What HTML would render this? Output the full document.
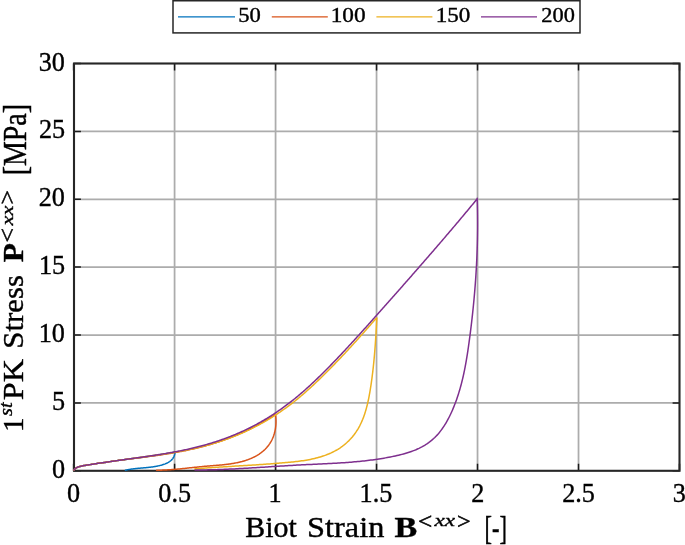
<!DOCTYPE html>
<html><head><meta charset="utf-8"><style>
html,body{margin:0;padding:0;background:#fff;width:685px;height:545px;overflow:hidden}
div{will-change:transform;width:685px;height:545px}
svg{display:block}
text{font-family:"Liberation Serif",serif;fill:#000;stroke:#000;stroke-width:0.4px}
</style></head><body><div>
<svg width="685" height="545" viewBox="0 0 685 545">
<rect width="685" height="545" fill="#fff"/>
<path stroke="#acacac" stroke-width="1.75" fill="none" d="M174.58,63.5V470.75M74.0,402.88H679.5M275.57,63.5V470.75M74.0,335.00H679.5M376.55,63.5V470.75M74.0,267.12H679.5M477.53,63.5V470.75M74.0,199.25H679.5M578.52,63.5V470.75M74.0,131.38H679.5"/>
<g fill="none">
<path stroke="#1a1a1a" stroke-width="1.5" d="M73.60,470.75V463.85M73.60,63.5V70.40M74.0,470.75H80.9M679.5,470.75H672.6M174.58,470.75V463.85M174.58,63.5V70.40M74.0,402.88H80.9M679.5,402.88H672.6M275.57,470.75V463.85M275.57,63.5V70.40M74.0,335.00H80.9M679.5,335.00H672.6M376.55,470.75V463.85M376.55,63.5V70.40M74.0,267.12H80.9M679.5,267.12H672.6M477.53,470.75V463.85M477.53,63.5V70.40M74.0,199.25H80.9M679.5,199.25H672.6M578.52,470.75V463.85M578.52,63.5V70.40M74.0,131.38H80.9M679.5,131.38H672.6M679.50,470.75V463.85M679.50,63.5V70.40M74.0,63.50H80.9M679.5,63.50H672.6"/>
<rect stroke="#262626" stroke-width="2.1" x="74.0" y="63.5" width="605.5" height="407.3"/>
</g>
<g fill="none" stroke-width="1.5" stroke-linejoin="round" stroke-linecap="round">
<path stroke="#0072BD" d="M74.00,469.90 L74.25,469.64 L74.50,469.38 L74.75,469.13 L75.00,468.88 L75.25,468.65 L75.50,468.43 L75.75,468.23 L76.00,468.05 L76.25,467.88 L76.50,467.75 L76.75,467.62 L77.00,467.50 L77.25,467.38 L77.50,467.27 L77.75,467.16 L78.00,467.06 L78.25,466.97 L78.50,466.88 L78.75,466.79 L79.00,466.71 L79.25,466.63 L79.50,466.55 L79.75,466.48 L80.00,466.41 L81.00,466.15 L82.00,465.94 L83.00,465.75 L84.00,465.58 L85.00,465.42 L86.00,465.25 L87.00,465.09 L88.00,464.93 L89.00,464.78 L90.00,464.62 L91.00,464.46 L92.00,464.30 L93.00,464.14 L94.00,463.98 L95.00,463.82 L96.00,463.66 L97.00,463.50 L98.00,463.34 L99.00,463.23 L100.00,463.12 L101.00,462.99 L102.00,462.85 L103.00,462.70 L104.00,462.54 L105.00,462.39 L106.00,462.23 L107.00,462.08 L108.00,461.93 L109.00,461.78 L110.00,461.63 L111.00,461.48 L112.00,461.34 L113.00,461.19 L114.00,461.05 L115.00,460.90 L116.00,460.76 L117.00,460.62 L118.00,460.48 L119.00,460.33 L120.00,460.19 L121.00,460.06 L122.00,459.92 L123.00,459.79 L124.00,459.66 L125.00,459.52 L126.00,459.39 L127.00,459.26 L128.00,459.13 L129.00,458.99 L130.00,458.86 L131.00,458.73 L132.00,458.60 L133.00,458.47 L134.00,458.33 L135.00,458.20 L136.00,458.07 L137.00,457.93 L138.00,457.80 L139.00,457.67 L140.00,457.53 L141.00,457.40 L142.00,457.26 L143.00,457.13 L144.00,456.99 L145.00,456.85 L146.00,456.71 L147.00,456.57 L148.00,456.43 L149.00,456.29 L150.00,456.15 L151.00,456.01 L152.00,455.86 L153.00,455.72 L154.00,455.57 L155.00,455.43 L156.00,455.28 L157.00,455.13 L158.00,454.98 L159.00,454.82 L160.00,454.67 L161.00,454.51 L162.00,454.36 L163.00,454.20 L164.00,454.04 L165.00,453.88 L166.00,453.71 L167.00,453.55 L168.00,453.38 L169.00,453.21 L170.00,453.04 L171.00,452.86 L172.00,452.69 L173.00,452.51 L174.00,452.33 L175.02,452.18 L174.93,452.99 L174.80,453.77 L174.64,454.51 L174.43,455.23 L174.19,455.91 L173.92,456.56 L173.61,457.18 L173.27,457.77 L172.90,458.34 L172.51,458.87 L172.08,459.39 L171.62,459.87 L171.15,460.34 L170.64,460.78 L170.12,461.19 L169.57,461.59 L169.00,461.96 L168.42,462.32 L167.81,462.66 L167.20,462.97 L166.56,463.27 L165.92,463.56 L165.26,463.83 L164.59,464.08 L163.91,464.33 L163.23,464.55 L162.54,464.77 L161.84,464.98 L161.14,465.17 L160.43,465.36 L159.73,465.54 L159.02,465.70 L158.30,465.87 L157.59,466.02 L156.87,466.16 L156.15,466.30 L155.43,466.43 L154.71,466.55 L153.99,466.67 L153.26,466.78 L152.53,466.89 L151.81,466.99 L151.08,467.08 L150.35,467.17 L149.61,467.26 L148.88,467.34 L148.15,467.42 L147.42,467.50 L146.69,467.57 L145.95,467.64 L145.22,467.71 L144.49,467.78 L143.76,467.84 L143.03,467.91 L142.30,467.97 L141.57,468.04 L140.84,468.10 L140.11,468.16 L139.39,468.23 L138.67,468.29 L137.94,468.36 L137.22,468.43 L136.51,468.50 L135.79,468.57 L135.08,468.65 L134.36,468.72 L133.65,468.81 L132.95,468.89 L132.25,468.98 L131.55,469.08 L130.85,469.18 L130.15,469.28 L129.46,469.39 L128.78,469.51 L128.10,469.63 L127.42,469.76 L126.74,469.89 L126.07,470.03 L125.41,470.18"/>
<path stroke="#D95319" d="M74.00,469.90 L74.25,469.64 L74.50,469.38 L74.75,469.13 L75.00,468.88 L75.25,468.65 L75.50,468.43 L75.75,468.23 L76.00,468.05 L76.25,467.88 L76.50,467.75 L76.75,467.62 L77.00,467.50 L77.25,467.38 L77.50,467.27 L77.75,467.16 L78.00,467.06 L78.25,466.97 L78.50,466.88 L78.75,466.79 L79.00,466.71 L79.25,466.63 L79.50,466.55 L79.75,466.48 L80.00,466.41 L81.00,466.15 L82.00,465.94 L83.00,465.75 L84.00,465.58 L85.00,465.42 L86.00,465.25 L87.00,465.09 L88.00,464.93 L89.00,464.78 L90.00,464.62 L91.00,464.46 L92.00,464.30 L93.00,464.14 L94.00,463.98 L95.00,463.82 L96.00,463.66 L97.00,463.50 L98.00,463.34 L99.00,463.23 L100.00,463.12 L101.00,462.99 L102.00,462.85 L103.00,462.70 L104.00,462.54 L105.00,462.39 L106.00,462.23 L107.00,462.08 L108.00,461.93 L109.00,461.78 L110.00,461.63 L111.00,461.48 L112.00,461.34 L113.00,461.19 L114.00,461.05 L115.00,460.90 L116.00,460.76 L117.00,460.62 L118.00,460.48 L119.00,460.33 L120.00,460.19 L121.00,460.07 L122.00,459.94 L123.00,459.81 L124.00,459.69 L125.00,459.56 L126.00,459.43 L127.00,459.31 L128.00,459.18 L129.00,459.06 L130.00,458.93 L131.00,458.81 L132.00,458.68 L133.00,458.56 L134.00,458.43 L135.00,458.31 L136.00,458.18 L137.00,458.05 L138.00,457.93 L139.00,457.80 L140.00,457.67 L141.00,457.54 L142.00,457.42 L143.00,457.29 L144.00,457.16 L145.00,457.03 L146.00,456.89 L147.00,456.76 L148.00,456.63 L149.00,456.50 L150.00,456.36 L151.00,456.23 L152.00,456.09 L153.00,455.95 L154.00,455.81 L155.00,455.67 L156.00,455.53 L157.00,455.39 L158.00,455.24 L159.00,455.10 L160.00,454.95 L161.00,454.80 L162.00,454.65 L163.00,454.50 L164.00,454.35 L165.00,454.19 L166.00,454.03 L167.00,453.88 L168.00,453.71 L169.00,453.55 L170.00,453.39 L171.00,453.22 L172.00,453.05 L173.00,452.88 L174.00,452.71 L175.00,452.53 L176.00,452.36 L177.00,452.18 L178.00,451.99 L179.00,451.81 L180.00,451.62 L181.00,451.43 L182.00,451.24 L183.00,451.05 L184.00,450.85 L185.00,450.65 L186.00,450.44 L187.00,450.24 L188.00,450.03 L189.00,449.82 L190.00,449.60 L191.00,449.39 L192.00,449.16 L193.00,448.94 L194.00,448.71 L195.00,448.48 L196.00,448.25 L197.00,448.01 L198.00,447.77 L199.00,447.53 L200.00,447.28 L201.00,447.02 L202.00,446.76 L203.00,446.50 L204.00,446.23 L205.00,445.95 L206.00,445.68 L207.00,445.40 L208.00,445.11 L209.00,444.82 L210.00,444.53 L211.00,444.23 L212.00,443.93 L213.00,443.63 L214.00,443.32 L215.00,443.01 L216.00,442.69 L217.00,442.37 L218.00,442.04 L219.00,441.71 L220.00,441.38 L221.00,441.04 L222.00,440.69 L223.00,440.34 L224.00,439.99 L225.00,439.63 L226.00,439.27 L227.00,438.90 L228.00,438.52 L229.00,438.15 L230.00,437.76 L231.00,437.37 L232.00,436.98 L233.00,436.58 L234.00,436.18 L235.00,435.77 L236.00,435.36 L237.00,434.94 L238.00,434.51 L239.00,434.08 L240.00,433.64 L241.00,433.20 L242.00,432.76 L243.00,432.30 L244.00,431.85 L245.00,431.38 L246.00,430.91 L247.00,430.44 L248.00,429.96 L249.00,429.47 L250.00,428.97 L251.00,428.48 L252.00,427.97 L253.00,427.46 L254.00,426.94 L255.00,426.42 L256.00,425.89 L257.00,425.35 L258.00,424.81 L259.00,424.26 L260.00,423.71 L261.00,423.15 L262.00,422.58 L263.00,422.01 L264.00,421.43 L265.00,420.84 L266.00,420.25 L267.00,419.65 L268.00,419.04 L269.00,418.43 L270.00,417.81 L271.00,417.18 L272.00,416.54 L273.00,415.90 L274.00,415.26 L275.00,414.60 L275.41,414.35 L275.56,415.33 L275.69,416.33 L275.79,417.33 L275.88,418.34 L275.94,419.35 L275.98,420.37 L275.99,421.39 L275.98,422.41 L275.95,423.44 L275.90,424.46 L275.82,425.49 L275.72,426.51 L275.59,427.53 L275.44,428.55 L275.27,429.56 L275.07,430.57 L274.85,431.57 L274.61,432.56 L274.34,433.55 L274.04,434.52 L273.72,435.49 L273.38,436.44 L273.01,437.39 L272.62,438.32 L272.20,439.24 L271.76,440.14 L271.29,441.03 L270.80,441.91 L270.29,442.77 L269.75,443.61 L269.19,444.43 L268.61,445.24 L268.01,446.03 L267.38,446.80 L266.73,447.56 L266.07,448.29 L265.38,449.00 L264.67,449.69 L263.94,450.36 L263.20,451.02 L262.44,451.65 L261.66,452.27 L260.87,452.87 L260.07,453.45 L259.25,454.01 L258.42,454.55 L257.58,455.07 L256.73,455.58 L255.86,456.07 L254.99,456.54 L254.11,457.00 L253.23,457.43 L252.33,457.85 L251.43,458.26 L250.52,458.65 L249.60,459.02 L248.68,459.38 L247.75,459.73 L246.81,460.06 L245.86,460.38 L244.91,460.68 L243.96,460.97 L242.99,461.25 L242.03,461.52 L241.05,461.77 L240.07,462.01 L239.09,462.24 L238.10,462.47 L237.11,462.68 L236.12,462.88 L235.12,463.07 L234.11,463.25 L233.11,463.43 L232.10,463.60 L231.09,463.75 L230.07,463.90 L229.05,464.05 L228.03,464.18 L227.01,464.31 L225.99,464.44 L224.96,464.56 L223.93,464.67 L222.91,464.78 L221.88,464.88 L220.85,464.98 L219.82,465.08 L218.79,465.17 L217.76,465.26 L216.73,465.35 L215.70,465.44 L214.67,465.52 L213.64,465.61 L212.62,465.69 L211.59,465.77 L210.57,465.85 L209.55,465.93 L208.53,466.01 L207.51,466.09 L206.49,466.18 L205.48,466.26 L204.47,466.35 L203.47,466.44 L202.47,466.53 L201.47,466.63 L200.47,466.73 L199.47,466.82 L198.48,466.92 L197.49,467.02 L196.50,467.13 L195.52,467.23 L194.53,467.33 L193.55,467.44 L192.56,467.54 L191.58,467.65 L190.60,467.75 L189.62,467.86 L188.64,467.97 L187.67,468.07 L186.69,468.18 L185.71,468.28 L184.73,468.38 L183.75,468.49 L182.77,468.59 L181.79,468.69 L180.81,468.79 L179.83,468.88 L178.85,468.98 L177.86,469.07 L176.88,469.16 L175.89,469.25 L174.90,469.34 L173.91,469.42 L172.91,469.50 L171.92,469.58 L170.92,469.65 L169.92,469.72 L168.91,469.79 L167.90,469.86 L166.89,469.92 L165.88,469.97 L164.86,470.02 L163.84,470.07 L162.81,470.11 L161.78,470.15 L160.75,470.19 L159.71,470.21 L158.67,470.24 L157.62,470.25 L156.57,470.27"/>
<path stroke="#EDB120" d="M74.00,469.90 L74.25,469.64 L74.50,469.38 L74.75,469.13 L75.00,468.88 L75.25,468.65 L75.50,468.43 L75.75,468.23 L76.00,468.05 L76.25,467.88 L76.50,467.75 L76.75,467.62 L77.00,467.50 L77.25,467.38 L77.50,467.27 L77.75,467.16 L78.00,467.06 L78.25,466.97 L78.50,466.88 L78.75,466.79 L79.00,466.71 L79.25,466.63 L79.50,466.55 L79.75,466.48 L80.00,466.41 L81.00,466.15 L82.00,465.94 L83.00,465.75 L84.00,465.58 L85.00,465.42 L86.00,465.25 L87.00,465.09 L88.00,464.93 L89.00,464.78 L90.00,464.62 L91.00,464.46 L92.00,464.30 L93.00,464.14 L94.00,463.98 L95.00,463.82 L96.00,463.66 L97.00,463.50 L98.00,463.34 L99.00,463.23 L100.00,463.12 L101.00,462.99 L102.00,462.85 L103.00,462.70 L104.00,462.54 L105.00,462.39 L106.00,462.23 L107.00,462.08 L108.00,461.93 L109.00,461.78 L110.00,461.63 L111.00,461.48 L112.00,461.34 L113.00,461.19 L114.00,461.05 L115.00,460.90 L116.00,460.76 L117.00,460.62 L118.00,460.48 L119.00,460.33 L120.00,460.19 L121.00,460.05 L122.00,459.91 L123.00,459.77 L124.00,459.64 L125.00,459.50 L126.00,459.36 L127.00,459.22 L128.00,459.08 L129.00,458.95 L130.00,458.81 L131.00,458.67 L132.00,458.53 L133.00,458.39 L134.00,458.26 L135.00,458.12 L136.00,457.98 L137.00,457.84 L138.00,457.70 L139.00,457.56 L140.00,457.42 L141.00,457.28 L142.00,457.14 L143.00,457.00 L144.00,456.86 L145.00,456.71 L146.00,456.57 L147.00,456.43 L148.00,456.28 L149.00,456.13 L150.00,455.99 L151.00,455.85 L152.00,455.72 L153.00,455.59 L154.00,455.45 L155.00,455.32 L156.00,455.18 L157.00,455.04 L158.00,454.90 L159.00,454.76 L160.00,454.62 L161.00,454.47 L162.00,454.33 L163.00,454.18 L164.00,454.03 L165.00,453.88 L166.00,453.73 L167.00,453.57 L168.00,453.41 L169.00,453.26 L170.00,453.10 L171.00,452.93 L172.00,452.77 L173.00,452.60 L174.00,452.43 L175.00,452.26 L176.00,452.09 L177.00,451.91 L178.00,451.74 L179.00,451.55 L180.00,451.37 L181.00,451.19 L182.00,451.00 L183.00,450.81 L184.00,450.61 L185.00,450.42 L186.00,450.22 L187.00,450.02 L188.00,449.81 L189.00,449.61 L190.00,449.39 L191.00,449.18 L192.00,448.96 L193.00,448.74 L194.00,448.52 L195.00,448.30 L196.00,448.07 L197.00,447.83 L198.00,447.60 L199.00,447.36 L200.00,447.11 L201.00,446.87 L202.00,446.62 L203.00,446.36 L204.00,446.10 L205.00,445.84 L206.00,445.58 L207.00,445.31 L208.00,445.04 L209.00,444.76 L210.00,444.48 L211.00,444.19 L212.00,443.90 L213.00,443.61 L214.00,443.31 L215.00,443.01 L216.00,442.70 L217.00,442.39 L218.00,442.08 L219.00,441.76 L220.00,441.44 L221.00,441.11 L222.00,440.77 L223.00,440.44 L224.00,440.09 L225.00,439.75 L226.00,439.39 L227.00,439.04 L228.00,438.68 L229.00,438.31 L230.00,437.94 L231.00,437.56 L232.00,437.18 L233.00,436.79 L234.00,436.40 L235.00,436.00 L236.00,435.60 L237.00,435.19 L238.00,434.78 L239.00,434.36 L240.00,433.93 L241.00,433.50 L242.00,433.07 L243.00,432.63 L244.00,432.19 L245.00,431.73 L246.00,431.28 L247.00,430.82 L248.00,430.35 L249.00,429.87 L250.00,429.39 L251.00,428.91 L252.00,428.42 L253.00,427.92 L254.00,427.41 L255.00,426.90 L256.00,426.39 L257.00,425.86 L258.00,425.34 L259.00,424.80 L260.00,424.26 L261.00,423.71 L262.00,423.16 L263.00,422.60 L264.00,422.03 L265.00,421.45 L266.00,420.87 L267.00,420.29 L268.00,419.69 L269.00,419.09 L270.00,418.49 L271.00,417.87 L272.00,417.25 L273.00,416.62 L274.00,415.99 L275.00,415.34 L276.00,414.70 L277.00,414.04 L278.00,413.38 L279.00,412.71 L280.00,412.03 L281.00,411.34 L282.00,410.65 L283.00,409.95 L284.00,409.24 L285.00,408.53 L286.00,407.81 L287.00,407.08 L288.00,406.34 L289.00,405.60 L290.00,404.85 L291.00,404.09 L292.00,403.32 L293.00,402.54 L294.00,401.76 L295.00,400.97 L296.00,400.17 L297.00,399.36 L298.00,398.55 L299.00,397.72 L300.00,396.89 L301.00,396.05 L302.00,395.19 L303.00,394.33 L304.00,393.46 L305.00,392.59 L306.00,391.70 L307.00,390.81 L308.00,389.92 L309.00,389.01 L310.00,388.11 L311.00,387.19 L312.00,386.27 L313.00,385.34 L314.00,384.41 L315.00,383.47 L316.00,382.53 L317.00,381.57 L318.00,380.62 L319.00,379.66 L320.00,378.69 L321.00,377.72 L322.00,376.74 L323.00,375.76 L324.00,374.78 L325.00,373.78 L326.00,372.79 L327.00,371.79 L328.00,370.78 L329.00,369.77 L330.00,368.76 L331.00,367.74 L332.00,366.72 L333.00,365.70 L334.00,364.67 L335.00,363.64 L336.00,362.60 L337.00,361.56 L338.00,360.52 L339.00,359.48 L340.00,358.43 L341.00,357.37 L342.00,356.32 L343.00,355.26 L344.00,354.20 L345.00,353.14 L346.00,352.07 L347.00,351.00 L348.00,349.93 L349.00,348.85 L350.00,347.78 L351.00,346.67 L352.00,345.57 L353.00,344.46 L354.00,343.35 L355.00,342.24 L356.00,341.13 L357.00,340.01 L358.00,338.90 L359.00,337.78 L360.00,336.66 L361.00,335.54 L362.00,334.41 L363.00,333.29 L364.00,332.16 L365.00,331.03 L366.00,329.91 L367.00,328.78 L368.00,327.64 L369.00,326.51 L370.00,325.38 L371.00,324.25 L372.00,323.11 L373.00,321.98 L374.00,320.84 L375.00,319.70 L376.00,318.57 L376.89,317.97 L376.81,319.44 L376.73,320.91 L376.65,322.37 L376.57,323.83 L376.49,325.28 L376.40,326.74 L376.32,328.19 L376.24,329.64 L376.15,331.09 L376.06,332.53 L375.98,333.97 L375.89,335.41 L375.80,336.85 L375.70,338.29 L375.61,339.73 L375.51,341.16 L375.41,342.60 L375.31,344.03 L375.21,345.46 L375.10,346.89 L374.99,348.32 L374.88,349.75 L374.77,351.18 L374.65,352.60 L374.54,354.03 L374.41,355.46 L374.29,356.88 L374.16,358.31 L374.03,359.73 L373.89,361.16 L373.75,362.59 L373.61,364.01 L373.46,365.44 L373.31,366.87 L373.15,368.30 L372.99,369.72 L372.83,371.15 L372.66,372.58 L372.48,374.02 L372.30,375.45 L372.12,376.88 L371.93,378.32 L371.74,379.76 L371.54,381.19 L371.34,382.63 L371.13,384.08 L370.91,385.52 L370.69,386.96 L370.46,388.41 L370.23,389.86 L369.99,391.31 L369.74,392.76 L369.48,394.22 L369.22,395.67 L368.94,397.12 L368.66,398.56 L368.36,400.01 L368.05,401.45 L367.73,402.88 L367.39,404.32 L367.04,405.74 L366.67,407.16 L366.29,408.58 L365.90,409.98 L365.48,411.38 L365.05,412.77 L364.60,414.15 L364.13,415.52 L363.64,416.88 L363.13,418.23 L362.60,419.57 L362.04,420.89 L361.46,422.20 L360.86,423.50 L360.24,424.78 L359.59,426.05 L358.91,427.30 L358.21,428.54 L357.48,429.76 L356.72,430.95 L355.94,432.14 L355.13,433.30 L354.29,434.44 L353.42,435.56 L352.53,436.66 L351.61,437.74 L350.67,438.80 L349.70,439.84 L348.71,440.85 L347.69,441.83 L346.65,442.79 L345.58,443.73 L344.50,444.64 L343.38,445.52 L342.25,446.38 L341.09,447.21 L339.91,448.01 L338.71,448.78 L337.49,449.53 L336.26,450.24 L335.00,450.94 L333.73,451.60 L332.44,452.24 L331.14,452.86 L329.82,453.45 L328.49,454.02 L327.14,454.56 L325.79,455.08 L324.42,455.58 L323.05,456.05 L321.67,456.51 L320.28,456.94 L318.88,457.34 L317.47,457.73 L316.06,458.10 L314.65,458.45 L313.23,458.78 L311.80,459.10 L310.37,459.39 L308.94,459.67 L307.50,459.94 L306.06,460.19 L304.61,460.43 L303.17,460.65 L301.72,460.86 L300.26,461.06 L298.81,461.25 L297.35,461.44 L295.89,461.61 L294.44,461.77 L292.98,461.93 L291.52,462.07 L290.06,462.22 L288.60,462.36 L287.15,462.49 L285.69,462.62 L284.24,462.75 L282.78,462.87 L281.33,462.99 L279.88,463.11 L278.44,463.23 L276.99,463.34 L275.54,463.46 L274.10,463.57 L272.66,463.68 L271.22,463.79 L269.78,463.89 L268.34,464.00 L266.90,464.10 L265.47,464.20 L264.03,464.30 L262.60,464.40 L261.16,464.50 L259.73,464.60 L258.30,464.69 L256.86,464.79 L255.43,464.88 L254.00,464.97 L252.57,465.06 L251.14,465.15 L249.71,465.24 L248.28,465.33 L246.85,465.42 L245.42,465.51 L244.00,465.60 L242.57,465.68 L241.14,465.77 L239.71,465.86 L238.28,465.94 L236.85,466.03 L235.42,466.12 L233.99,466.21 L232.55,466.29 L231.12,466.38 L229.69,466.47 L228.26,466.56 L226.82,466.64 L225.39,466.73 L223.95,466.82 L222.52,466.91 L221.08,467.01 L219.64,467.10 L218.20,467.19 L216.76,467.28 L215.32,467.38 L213.88,467.48 L212.43,467.57 L210.99,467.67 L209.54,467.77 L208.09,467.87 L206.64,467.98 L205.19,468.08 L203.73,468.19 L202.28,468.30 L200.82,468.41 L199.36,468.52 L197.90,468.63 L196.44,468.75 L194.97,468.86"/>
<path stroke="#7E2F8E" d="M74.00,469.90 L74.25,469.64 L74.50,469.38 L74.75,469.13 L75.00,468.88 L75.25,468.65 L75.50,468.43 L75.75,468.23 L76.00,468.05 L76.25,467.88 L76.50,467.75 L76.75,467.62 L77.00,467.50 L77.25,467.38 L77.50,467.27 L77.75,467.16 L78.00,467.06 L78.25,466.97 L78.50,466.88 L78.75,466.79 L79.00,466.71 L79.25,466.63 L79.50,466.55 L79.75,466.48 L80.00,466.41 L81.00,466.15 L82.00,465.94 L83.00,465.75 L84.00,465.58 L85.00,465.42 L86.00,465.25 L87.00,465.09 L88.00,464.93 L89.00,464.78 L90.00,464.62 L91.00,464.46 L92.00,464.30 L93.00,464.14 L94.00,463.98 L95.00,463.82 L96.00,463.66 L97.00,463.50 L98.00,463.34 L99.00,463.23 L100.00,463.12 L101.00,462.99 L102.00,462.85 L103.00,462.70 L104.00,462.54 L105.00,462.39 L106.00,462.23 L107.00,462.08 L108.00,461.93 L109.00,461.78 L110.00,461.63 L111.00,461.48 L112.00,461.34 L113.00,461.19 L114.00,461.05 L115.00,460.90 L116.00,460.76 L117.00,460.62 L118.00,460.48 L119.00,460.33 L120.00,460.19 L121.00,460.05 L122.00,459.91 L123.00,459.77 L124.00,459.64 L125.00,459.50 L126.00,459.36 L127.00,459.22 L128.00,459.08 L129.00,458.95 L130.00,458.81 L131.00,458.67 L132.00,458.53 L133.00,458.39 L134.00,458.26 L135.00,458.12 L136.00,457.98 L137.00,457.84 L138.00,457.70 L139.00,457.56 L140.00,457.42 L141.00,457.28 L142.00,457.14 L143.00,457.00 L144.00,456.86 L145.00,456.71 L146.00,456.57 L147.00,456.43 L148.00,456.28 L149.00,456.13 L150.00,455.99 L151.00,455.84 L152.00,455.69 L153.00,455.54 L154.00,455.39 L155.00,455.23 L156.00,455.08 L157.00,454.92 L158.00,454.77 L159.00,454.61 L160.00,454.45 L161.00,454.29 L162.00,454.13 L163.00,453.96 L164.00,453.80 L165.00,453.63 L166.00,453.46 L167.00,453.29 L168.00,453.11 L169.00,452.94 L170.00,452.76 L171.00,452.58 L172.00,452.40 L173.00,452.22 L174.00,452.03 L175.00,451.85 L176.00,451.66 L177.00,451.46 L178.00,451.27 L179.00,451.07 L180.00,450.87 L181.00,450.67 L182.00,450.47 L183.00,450.26 L184.00,450.05 L185.00,449.83 L186.00,449.62 L187.00,449.40 L188.00,449.18 L189.00,448.96 L190.00,448.73 L191.00,448.50 L192.00,448.26 L193.00,448.03 L194.00,447.79 L195.00,447.55 L196.00,447.30 L197.00,447.05 L198.00,446.80 L199.00,446.54 L200.00,446.28 L201.00,446.02 L202.00,445.75 L203.00,445.48 L204.00,445.20 L205.00,444.93 L206.00,444.64 L207.00,444.36 L208.00,444.07 L209.00,443.78 L210.00,443.48 L211.00,443.18 L212.00,442.87 L213.00,442.56 L214.00,442.25 L215.00,441.93 L216.00,441.60 L217.00,441.28 L218.00,440.95 L219.00,440.61 L220.00,440.27 L221.00,439.92 L222.00,439.57 L223.00,439.22 L224.00,438.86 L225.00,438.50 L226.00,438.13 L227.00,437.75 L228.00,437.38 L229.00,436.99 L230.00,436.60 L231.00,436.21 L232.00,435.81 L233.00,435.41 L234.00,435.00 L235.00,434.58 L236.00,434.17 L237.00,433.74 L238.00,433.31 L239.00,432.87 L240.00,432.43 L241.00,431.99 L242.00,431.53 L243.00,431.08 L244.00,430.61 L245.00,430.14 L246.00,429.67 L247.00,429.19 L248.00,428.70 L249.00,428.21 L250.00,427.71 L251.00,427.21 L252.00,426.70 L253.00,426.18 L254.00,425.66 L255.00,425.13 L256.00,424.59 L257.00,424.05 L258.00,423.51 L259.00,422.95 L260.00,422.39 L261.00,421.83 L262.00,421.25 L263.00,420.67 L264.00,420.09 L265.00,419.50 L266.00,418.90 L267.00,418.29 L268.00,417.68 L269.00,417.06 L270.00,416.44 L271.00,415.80 L272.00,415.16 L273.00,414.52 L274.00,413.86 L275.00,413.20 L276.00,412.54 L277.00,411.86 L278.00,411.18 L279.00,410.49 L280.00,409.80 L281.00,409.09 L282.00,408.38 L283.00,407.66 L284.00,406.94 L285.00,406.21 L286.00,405.47 L287.00,404.72 L288.00,403.96 L289.00,403.20 L290.00,402.43 L291.00,401.65 L292.00,400.86 L293.00,400.07 L294.00,399.27 L295.00,398.46 L296.00,397.64 L297.00,396.82 L298.00,395.98 L299.00,395.14 L300.00,394.29 L301.00,393.44 L302.00,392.58 L303.00,391.71 L304.00,390.83 L305.00,389.95 L306.00,389.05 L307.00,388.16 L308.00,387.25 L309.00,386.34 L310.00,385.43 L311.00,384.50 L312.00,383.57 L313.00,382.64 L314.00,381.70 L315.00,380.75 L316.00,379.80 L317.00,378.84 L318.00,377.88 L319.00,376.91 L320.00,375.93 L321.00,374.95 L322.00,373.97 L323.00,372.98 L324.00,371.98 L325.00,370.98 L326.00,369.98 L327.00,368.97 L328.00,367.96 L329.00,366.94 L330.00,365.92 L331.00,364.90 L332.00,363.87 L333.00,362.84 L334.00,361.80 L335.00,360.76 L336.00,359.71 L337.00,358.67 L338.00,357.62 L339.00,356.56 L340.00,355.51 L341.00,354.45 L342.00,353.38 L343.00,352.32 L344.00,351.25 L345.00,350.18 L346.00,349.10 L347.00,348.02 L348.00,346.94 L349.00,345.86 L350.00,344.78 L351.00,343.69 L352.00,342.60 L353.00,341.51 L354.00,340.41 L355.00,339.32 L356.00,338.22 L357.00,337.12 L358.00,336.02 L359.00,334.91 L360.00,333.81 L361.00,332.70 L362.00,331.59 L363.00,330.48 L364.00,329.37 L365.00,328.26 L366.00,327.15 L367.00,326.03 L368.00,324.91 L369.00,323.80 L370.00,322.68 L371.00,321.56 L372.00,320.44 L373.00,319.32 L374.00,318.20 L375.00,317.08 L376.00,315.96 L377.00,314.84 L378.00,313.71 L379.00,312.59 L380.00,311.47 L381.00,310.34 L382.00,309.22 L383.00,308.10 L384.00,306.97 L385.00,305.84 L386.00,304.72 L387.00,303.59 L388.00,302.46 L389.00,301.34 L390.00,300.21 L391.00,299.08 L392.00,297.95 L393.00,296.82 L394.00,295.69 L395.00,294.56 L396.00,293.43 L397.00,292.30 L398.00,291.16 L399.00,290.03 L400.00,288.90 L401.00,287.76 L402.00,286.63 L403.00,285.49 L404.00,284.36 L405.00,283.22 L406.00,282.08 L407.00,280.95 L408.00,279.81 L409.00,278.67 L410.00,277.53 L411.00,276.39 L412.00,275.25 L413.00,274.11 L414.00,272.97 L415.00,271.82 L416.00,270.68 L417.00,269.54 L418.00,268.39 L419.00,267.25 L420.00,266.10 L421.00,264.95 L422.00,263.81 L423.00,262.66 L424.00,261.51 L425.00,260.36 L426.00,259.21 L427.00,258.06 L428.00,256.91 L429.00,255.76 L430.00,254.60 L431.00,253.45 L432.00,252.30 L433.00,251.14 L434.00,249.98 L435.00,248.83 L436.00,247.67 L437.00,246.51 L438.00,245.35 L439.00,244.19 L440.00,243.03 L441.00,241.87 L442.00,240.70 L443.00,239.54 L444.00,238.37 L445.00,237.20 L446.00,236.03 L447.00,234.86 L448.00,233.69 L449.00,232.52 L450.00,231.35 L451.00,230.17 L452.00,229.00 L453.00,227.82 L454.00,226.64 L455.00,225.46 L456.00,224.27 L457.00,223.09 L458.00,221.90 L459.00,220.72 L460.00,219.53 L461.00,218.34 L462.00,217.14 L463.00,215.95 L464.00,214.75 L465.00,213.55 L466.00,212.35 L467.00,211.15 L468.00,209.95 L469.00,208.74 L470.00,207.53 L471.00,206.32 L472.00,205.11 L473.00,203.90 L474.00,202.68 L475.00,201.46 L476.00,200.24 L477.00,199.02 L477.19,198.34 L477.25,200.00 L477.30,201.66 L477.34,203.31 L477.39,204.97 L477.43,206.63 L477.46,208.28 L477.49,209.94 L477.52,211.59 L477.54,213.24 L477.57,214.90 L477.58,216.55 L477.59,218.20 L477.60,219.85 L477.61,221.50 L477.61,223.15 L477.61,224.80 L477.61,226.45 L477.60,228.10 L477.59,229.75 L477.57,231.40 L477.55,233.05 L477.53,234.70 L477.50,236.34 L477.47,237.99 L477.44,239.64 L477.40,241.28 L477.36,242.93 L477.32,244.57 L477.27,246.22 L477.22,247.86 L477.17,249.51 L477.11,251.15 L477.05,252.79 L476.99,254.44 L476.92,256.08 L476.85,257.72 L476.78,259.36 L476.70,261.01 L476.62,262.65 L476.54,264.29 L476.45,265.93 L476.36,267.57 L476.27,269.21 L476.17,270.85 L476.07,272.49 L475.97,274.13 L475.87,275.77 L475.76,277.41 L475.65,279.05 L475.53,280.69 L475.41,282.33 L475.29,283.96 L475.17,285.60 L475.04,287.24 L474.91,288.88 L474.78,290.52 L474.64,292.15 L474.50,293.79 L474.36,295.43 L474.21,297.06 L474.06,298.70 L473.91,300.34 L473.76,301.97 L473.60,303.61 L473.44,305.25 L473.28,306.88 L473.11,308.52 L472.94,310.15 L472.77,311.79 L472.60,313.42 L472.42,315.06 L472.24,316.70 L472.06,318.33 L471.87,319.97 L471.68,321.60 L471.49,323.24 L471.30,324.87 L471.10,326.51 L470.90,328.14 L470.70,329.78 L470.50,331.41 L470.29,333.05 L470.08,334.68 L469.87,336.32 L469.65,337.95 L469.43,339.59 L469.21,341.22 L468.99,342.86 L468.76,344.49 L468.53,346.13 L468.30,347.76 L468.06,349.39 L467.82,351.03 L467.57,352.66 L467.32,354.29 L467.06,355.92 L466.79,357.55 L466.52,359.18 L466.24,360.81 L465.96,362.43 L465.67,364.05 L465.37,365.68 L465.06,367.30 L464.75,368.91 L464.42,370.53 L464.09,372.14 L463.75,373.76 L463.39,375.37 L463.03,376.97 L462.66,378.58 L462.28,380.18 L461.88,381.78 L461.48,383.37 L461.06,384.96 L460.63,386.55 L460.19,388.14 L459.73,389.72 L459.27,391.30 L458.78,392.88 L458.29,394.45 L457.78,396.02 L457.26,397.58 L456.72,399.14 L456.17,400.70 L455.60,402.25 L455.01,403.79 L454.41,405.33 L453.79,406.87 L453.16,408.40 L452.51,409.93 L451.84,411.45 L451.15,412.97 L450.44,414.48 L449.72,415.98 L448.97,417.47 L448.21,418.94 L447.42,420.40 L446.60,421.85 L445.77,423.28 L444.91,424.69 L444.02,426.08 L443.11,427.45 L442.18,428.80 L441.21,430.12 L440.22,431.41 L439.20,432.68 L438.15,433.92 L437.07,435.13 L435.96,436.30 L434.82,437.44 L433.64,438.55 L432.44,439.62 L431.21,440.66 L429.95,441.66 L428.66,442.63 L427.34,443.56 L426.00,444.45 L424.64,445.31 L423.25,446.12 L421.83,446.91 L420.40,447.65 L418.94,448.37 L417.46,449.05 L415.97,449.70 L414.45,450.32 L412.92,450.92 L411.38,451.49 L409.82,452.03 L408.25,452.54 L406.67,453.04 L405.07,453.51 L403.47,453.96 L401.86,454.39 L400.24,454.80 L398.61,455.19 L396.98,455.57 L395.35,455.94 L393.72,456.29 L392.08,456.63 L390.44,456.95 L388.80,457.27 L387.17,457.58 L385.53,457.87 L383.89,458.16 L382.25,458.43 L380.62,458.70 L378.98,458.96 L377.34,459.20 L375.70,459.44 L374.07,459.68 L372.43,459.90 L370.79,460.11 L369.15,460.32 L367.52,460.52 L365.88,460.71 L364.24,460.89 L362.60,461.07 L360.96,461.24 L359.33,461.41 L357.69,461.56 L356.05,461.72 L354.41,461.86 L352.77,462.00 L351.14,462.14 L349.50,462.27 L347.86,462.39 L346.22,462.51 L344.58,462.63 L342.94,462.74 L341.30,462.85 L339.66,462.96 L338.03,463.06 L336.39,463.15 L334.75,463.25 L333.11,463.34 L331.47,463.43 L329.83,463.52 L328.19,463.60 L326.55,463.68 L324.91,463.77 L323.27,463.85 L321.63,463.92 L319.99,464.00 L318.35,464.08 L316.71,464.16 L315.07,464.23 L313.42,464.31 L311.78,464.38 L310.14,464.46 L308.50,464.54 L306.86,464.62 L305.22,464.70 L303.57,464.78 L301.93,464.86 L300.29,464.94 L298.65,465.03 L297.00,465.12 L295.36,465.21 L293.72,465.30 L292.07,465.39 L290.43,465.49 L288.79,465.59 L287.14,465.68 L285.50,465.78 L283.85,465.88 L282.21,465.98 L280.56,466.09 L278.92,466.19 L277.28,466.29 L275.63,466.40 L273.99,466.50 L272.34,466.61 L270.69,466.71 L269.05,466.82 L267.40,466.92 L265.76,467.03 L264.11,467.13 L262.47,467.24 L260.82,467.34 L259.18,467.45 L257.53,467.55 L255.88,467.66 L254.24,467.76 L252.59,467.86 L250.95,467.96 L249.30,468.06 L247.65,468.16 L246.01,468.25 L244.36,468.35 L242.72,468.44 L241.07,468.53 L239.42,468.62 L237.78,468.71 L236.13,468.80 L234.49,468.88 L232.84,468.96 L231.19,469.04 L229.55,469.12 L227.90,469.19 L226.26,469.26 L224.61,469.33 L222.97,469.40 L221.32,469.46 L219.67,469.52 L218.03,469.58 L216.38,469.63 L214.74,469.68 L213.09,469.73 L211.45,469.77 L209.80,469.81 L208.16,469.85 L206.51,469.88 L204.87,469.91 L203.22,469.93 L201.58,469.95 L199.94,469.96 L198.29,469.97 L196.65,469.98 L195.01,469.98"/>
</g>

<g font-size="28.2">
<text transform="translate(67.09,502.30) scale(0.93,1)">0</text><text transform="translate(52.01,477.75) scale(0.93,1)">0</text><text transform="translate(158.31,502.30) scale(0.93,1)">0.5</text><text transform="translate(52.01,409.88) scale(0.93,1)">5</text><text transform="translate(268.59,502.30) scale(0.93,1)">1</text><text transform="translate(38.76,342.00) scale(0.93,1)">10</text><text transform="translate(359.58,502.30) scale(0.93,1)">1.5</text><text transform="translate(38.99,274.12) scale(0.93,1)">15</text><text transform="translate(471.14,502.30) scale(0.93,1)">2</text><text transform="translate(38.76,206.25) scale(0.93,1)">20</text><text transform="translate(562.13,502.30) scale(0.93,1)">2.5</text><text transform="translate(38.99,138.38) scale(0.93,1)">25</text><text transform="translate(672.87,502.30) scale(0.93,1)">3</text><text transform="translate(38.76,70.50) scale(0.93,1)">30</text>
</g>
<text transform="translate(245.24,537.30) scale(1.0140,1.0000)" font-size="29.5" font-weight="normal" font-style="normal">Biot</text><text transform="translate(307.11,537.30) scale(1.0971,1.0000)" font-size="29.5" font-weight="normal" font-style="normal">Strain</text><text transform="translate(394.62,537.10) scale(1.1562,1.0000)" font-size="29.5" font-weight="bold" font-style="normal">B</text><text transform="translate(417.94,529.39) scale(1.2649,1.1459)" font-size="20" font-weight="normal" font-style="normal">&lt;</text><text transform="translate(434.39,526.40) scale(1.1549,0.8649)" font-size="20" font-weight="normal" font-style="italic">xx</text><text transform="translate(456.99,529.39) scale(1.2108,1.1459)" font-size="20" font-weight="normal" font-style="normal">&gt;</text><text transform="translate(484.59,538.91) scale(0.7600,1.1469)" font-size="29.5" font-weight="normal" font-style="normal">[-]</text>
<text transform="translate(23.30,431.88) rotate(-90) scale(0.9905,1.0000)" font-size="29.5" font-weight="normal" font-style="normal">1</text><text transform="translate(12.15,415.96) rotate(-90) scale(1.0222,0.9826)" font-size="20" font-weight="normal" font-style="italic">st</text><text transform="translate(23.30,400.22) rotate(-90) scale(1.0939,1.0000)" font-size="29.5" font-weight="normal" font-style="normal">PK</text><text transform="translate(23.30,348.69) rotate(-90) scale(1.0444,1.0000)" font-size="29.5" font-weight="normal" font-style="normal">Stress</text><text transform="translate(23.30,262.23) rotate(-90) scale(1.0687,1.0000)" font-size="29.5" font-weight="bold" font-style="normal">P</text><text transform="translate(15.15,242.59) rotate(-90) scale(1.2865,1.1243)" font-size="20" font-weight="normal" font-style="normal">&lt;</text><text transform="translate(12.90,225.62) rotate(-90) scale(1.1268,0.8865)" font-size="20" font-weight="normal" font-style="italic">xx</text><text transform="translate(15.15,204.39) rotate(-90) scale(1.2865,1.1243)" font-size="20" font-weight="normal" font-style="normal">&gt;</text><text transform="translate(25.90,175.33) rotate(-90) scale(0.9479,1.1755)" font-size="29.5" font-weight="normal" font-style="normal">[MPa]</text>
<rect x="173" y="0.75" width="407" height="32.15" fill="#fff" stroke="#262626" stroke-width="1.5"/>
<g stroke-width="1.2">
<path stroke="#0072BD" d="M178,16.8H235"/>
<path stroke="#D95319" d="M271.8,16.8H327.8"/>
<path stroke="#EDB120" d="M376.4,16.8H432.4"/>
<path stroke="#7E2F8E" d="M481,16.8H537"/>
</g>
<text transform="translate(238.19,22.40) scale(1.0462,1.0000)" font-size="21.6" font-weight="normal" font-style="normal">50</text><text transform="translate(330.74,22.40) scale(1.0780,1.0000)" font-size="21.6" font-weight="normal" font-style="normal">100</text><text transform="translate(435.66,22.40) scale(1.0678,1.0000)" font-size="21.6" font-weight="normal" font-style="normal">150</text><text transform="translate(541.26,22.40) scale(1.0361,1.0000)" font-size="21.6" font-weight="normal" font-style="normal">200</text>
</svg></div>
</body></html>
